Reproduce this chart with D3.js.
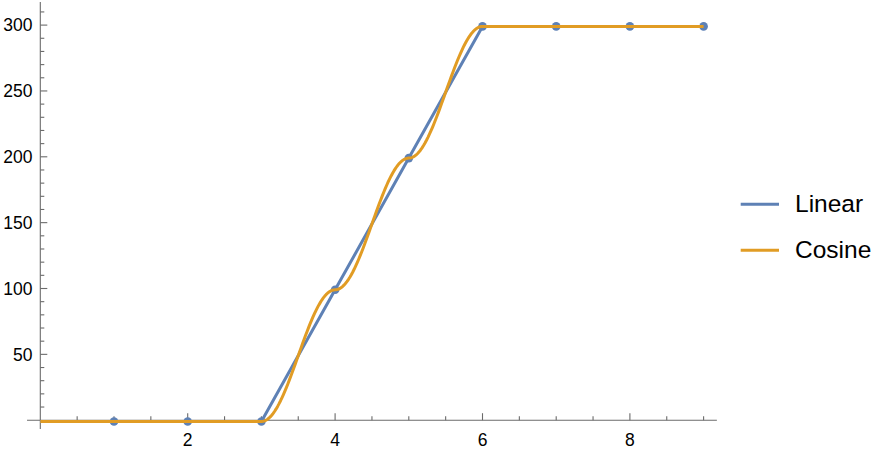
<!DOCTYPE html>
<html>
<head>
<meta charset="utf-8">
<script src="https://cdn.jsdelivr.net/npm/d3@7"></script>
<style>
  body { margin: 0; background: #fff; }
  text { font-family: "Liberation Sans", Arial, sans-serif; }
</style>
</head>
<body>
<svg id="chart" width="884" height="458"></svg>
<script>
// data
var xs = [0, 1, 2, 3, 4, 5, 6, 7, 8, 9];
var ys = [0, 0, 0, 0, 100, 200, 300, 300, 300, 300];
var markerXs = [1, 2, 3, 4, 5, 6, 7, 8, 9];
var seriesNames = ["Linear", "Cosine"];
var seriesColors = ["#5E81B5", "#E19C24"];
var xMajorTicks = [2, 4, 6, 8];
var yMajorTicks = [50, 100, 150, 200, 250, 300];

var svg = d3.select("#chart");

// scales: x 0 -> 40.3px, 73.7px per unit ; y 0 -> 420.2px, 1.317px per unit
var x = d3.scaleLinear().domain([0, 9]).range([40.3, 40.3 + 9 * 73.7]);
var y = d3.scaleLinear().domain([0, 300]).range([420.2, 420.2 - 300 * 1.317]);

var axisColor = "#6b6b6b";

// ---- axes ----
var ax = svg.append("g").attr("stroke", axisColor).attr("stroke-width", 1.1);

// x axis line
ax.append("line")
    .attr("x1", x(-0.18)).attr("x2", x(9.18))
    .attr("y1", y(0)).attr("y2", y(0));
// y axis line
ax.append("line")
    .attr("x1", x(0)).attr("x2", x(0))
    .attr("y1", y(317.6)).attr("y2", y(-6.7));

// x ticks (minor every 0.5, major every 2)
d3.range(1, 19).map(function(i) { return i * 0.5; }).forEach(function(v) {
    var major = xMajorTicks.indexOf(v) >= 0;
    ax.append("line")
        .attr("x1", x(v)).attr("x2", x(v))
        .attr("y1", y(0)).attr("y2", y(0) - (major ? 7 : 4));
});
// y ticks (minor every 10, major every 50)
d3.range(1, 32).map(function(i) { return i * 10; }).forEach(function(v) {
    var major = yMajorTicks.indexOf(v) >= 0;
    ax.append("line")
        .attr("x1", x(0)).attr("x2", x(0) + (major ? 7 : 4))
        .attr("y1", y(v)).attr("y2", y(v));
});

// tick labels
svg.append("g").selectAll("text")
    .data(xMajorTicks).enter().append("text")
    .attr("x", function(d) { return x(d); })
    .attr("y", 445.7)
    .attr("text-anchor", "middle")
    .attr("font-size", 17.5)
    .attr("fill", "#000")
    .text(function(d) { return d; });

svg.append("g").selectAll("text")
    .data(yMajorTicks).enter().append("text")
    .attr("x", 32.5)
    .attr("y", function(d) { return y(d) + 6.3; })
    .attr("text-anchor", "end")
    .attr("font-size", 17.5)
    .attr("fill", "#000")
    .text(function(d) { return d; });

// ---- series ----
var pts = xs.map(function(d, i) { return { x: d, y: ys[i] }; });

// cosine interpolation between neighbouring data points
var cosPts = [];
for (var i = 0; i < xs.length - 1; i++) {
    d3.range(0, 1, 0.02).forEach(function(t) {
        var m = (1 - Math.cos(Math.PI * t)) / 2;
        cosPts.push({ x: xs[i] + t * (xs[i + 1] - xs[i]), y: ys[i] + m * (ys[i + 1] - ys[i]) });
    });
}
cosPts.push(pts[pts.length - 1]);

var line = d3.line()
    .x(function(d) { return x(d.x); })
    .y(function(d) { return y(d.y) + 1.3; });

// markers
svg.append("g").selectAll("circle")
    .data(markerXs).enter().append("circle")
    .attr("cx", function(d) { return x(d); })
    .attr("cy", function(d) { return y(ys[xs.indexOf(d)]) + 1.3; })
    .attr("r", 4.3)
    .attr("fill", seriesColors[0]);

svg.append("path")
    .attr("d", line(pts))
    .attr("fill", "none")
    .attr("stroke", seriesColors[0])
    .attr("stroke-width", 3)
    .attr("stroke-linejoin", "round");

svg.append("path")
    .attr("d", line(cosPts))
    .attr("fill", "none")
    .attr("stroke", seriesColors[1])
    .attr("stroke-width", 3)
    .attr("stroke-linejoin", "round");

// ---- legend ----
var legend = svg.append("g").selectAll("g")
    .data(seriesNames).enter().append("g")
    .attr("transform", function(d, i) { return "translate(0," + (204.3 + i * 46) + ")"; });

legend.append("line")
    .attr("x1", 740.7).attr("x2", 779)
    .attr("y1", 0).attr("y2", 0)
    .attr("stroke", function(d, i) { return seriesColors[i]; })
    .attr("stroke-width", 3);

legend.append("text")
    .attr("x", 795)
    .attr("y", 7.5)
    .attr("font-size", 24.5)
    .attr("fill", "#000")
    .text(function(d) { return d; });
</script>
</body>
</html>
